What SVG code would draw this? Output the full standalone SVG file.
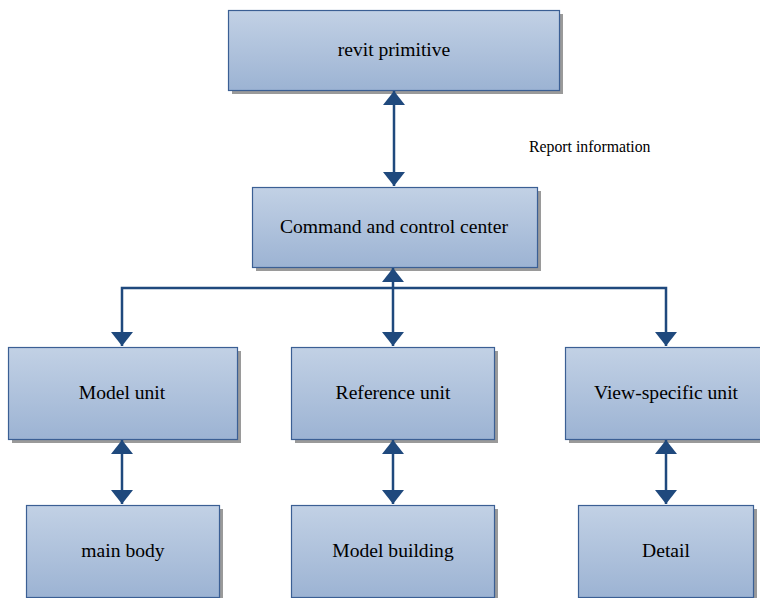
<svg xmlns="http://www.w3.org/2000/svg" width="760" height="598" viewBox="0 0 760 598">
<style>
.box{fill:url(#g);stroke:#3b5f94;stroke-width:1.2}
.sh{fill:#9a9a9a}
.t{font-family:"Liberation Serif","Times New Roman","DejaVu Serif",serif;font-size:19.6px;fill:#000;text-anchor:middle}
.c{fill:none;stroke:#1f497d;stroke-width:2.5}
</style>
<defs>
<linearGradient id="g" x1="0" y1="0" x2="0" y2="1">
<stop offset="0" stop-color="#c2d1e5"/>
<stop offset="1" stop-color="#9cb3d3"/>
</linearGradient>
<marker id="a" viewBox="0 0 14 22" refX="14" refY="11" markerWidth="14" markerHeight="22" markerUnits="userSpaceOnUse" orient="auto-start-reverse">
<path d="M0,0L14,11L0,22z" fill="#1f497d"/>
</marker>
</defs>
<g id="n-revit"><rect class="sh" x="232" y="14" width="331" height="80"/><rect class="box" x="228.5" y="10.5" width="331" height="80"/><text class="t" x="394" y="56">revit primitive</text></g>
<g id="n-command"><rect class="sh" x="256" y="191" width="285" height="80"/><rect class="box" x="252.5" y="187.5" width="285" height="80"/><text class="t" x="394" y="233">Command and control center</text></g>
<g id="n-model"><rect class="sh" x="12" y="351" width="229" height="92"/><rect class="box" x="8.5" y="347.5" width="229" height="92"/><text class="t" x="122" y="399">Model unit</text></g>
<g id="n-reference"><rect class="sh" x="295" y="351" width="203" height="92"/><rect class="box" x="291.5" y="347.5" width="203" height="92"/><text class="t" x="393" y="399">Reference unit</text></g>
<g id="n-view"><rect class="sh" x="569" y="351" width="200" height="92"/><rect class="box" x="565.5" y="347.5" width="200" height="92"/><text class="t" x="666" y="399">View-specific unit</text></g>
<g id="n-main"><rect class="sh" x="30" y="509" width="193" height="95"/><rect class="box" x="26.5" y="505.5" width="193" height="92"/><text class="t" x="123" y="557">main body</text></g>
<g id="n-building"><rect class="sh" x="295" y="509" width="203" height="95"/><rect class="box" x="291.5" y="505.5" width="203" height="92"/><text class="t" x="393" y="557">Model building</text></g>
<g id="n-detail"><rect class="sh" x="582" y="509" width="175" height="95"/><rect class="box" x="578.5" y="505.5" width="175" height="92"/><text class="t" x="666" y="557">Detail</text></g>
<text id="lbl" x="529" y="152" style="font-family:'Liberation Serif','Times New Roman','DejaVu Serif',serif;font-size:15.8px;fill:#000">Report information</text>
<g id="connectors">
<line class="c" x1="394" y1="91" x2="394" y2="186" marker-start="url(#a)" marker-end="url(#a)"/>
<line class="c" x1="393" y1="268" x2="393" y2="346" marker-start="url(#a)" marker-end="url(#a)"/>
<polyline class="c" points="122,346 122,288 666,288 666,346" marker-start="url(#a)" marker-end="url(#a)"/>
<line class="c" x1="122" y1="440" x2="122" y2="504" marker-start="url(#a)" marker-end="url(#a)"/>
<line class="c" x1="393" y1="440" x2="393" y2="504" marker-start="url(#a)" marker-end="url(#a)"/>
<line class="c" x1="666" y1="440" x2="666" y2="504" marker-start="url(#a)" marker-end="url(#a)"/>
</g>
</svg>
